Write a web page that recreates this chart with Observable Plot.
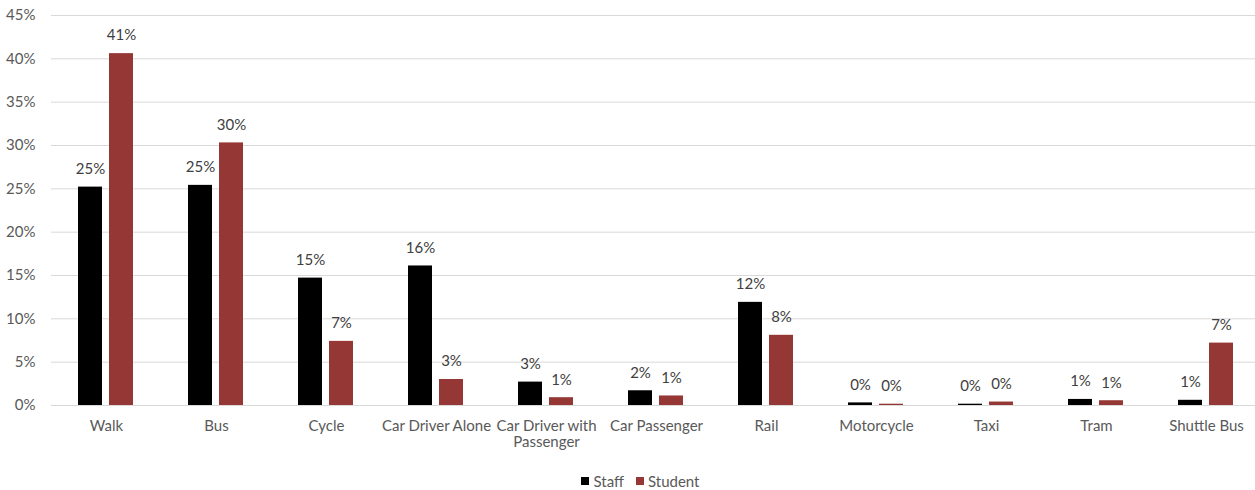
<!DOCTYPE html>
<html>
<head>
<meta charset="utf-8">
<script src="https://cdn.jsdelivr.net/npm/d3@7"></script>
<script src="https://cdn.jsdelivr.net/npm/@observablehq/plot@0.6"></script>
<style>
  body { margin: 0; background: #fff; font-family: Lato, "Open Sans", sans-serif; }
  #chart svg { display: block; }
  .legend { display: flex; justify-content: center; align-items: center; height: 18px; line-height: 18px;
            padding-top: 10px; padding-left: 26px; font-size: 15px; color: #595959; }
  .legend .item { display: flex; align-items: center; margin: 0 6px; }
  .legend .swatch { width: 8px; height: 8px; margin-right: 4px; }
</style>
</head>
<body>
<div id="chart"></div>
<script>
// Travel mode shares (%) for staff and students
const modes = ["Walk", "Bus", "Cycle", "Car Driver Alone", "Car Driver with Passenger",
  "Car Passenger", "Rail", "Motorcycle", "Taxi", "Tram", "Shuttle Bus"];
const modeLabels = ["Walk", "Bus", "Cycle", "Car Driver Alone", "Car Driver with\nPassenger",
  "Car Passenger", "Rail", "Motorcycle", "Taxi", "Tram", "Shuttle Bus"];
const staff   = [25.2, 25.4, 14.7, 16.1, 2.7, 1.7, 11.9, 0.3, 0.15, 0.7, 0.6];
const student = [40.6, 30.3, 7.4, 3.0, 0.9, 1.1, 8.1, 0.15, 0.4, 0.55, 7.2];
const groups = ["Staff", "Student"];
const groupColors = ["#000000", "#953735"];
const yTicks = [0, 5, 10, 15, 20, 25, 30, 35, 40, 45];

const rows = modes.flatMap((m, i) => [
  {mode: m, group: groups[0], value: staff[i]},
  {mode: m, group: groups[1], value: student[i]}
]);

const chart = Plot.plot({
  width: 1255,
  height: 462,
  marginLeft: 51,
  marginRight: 0,
  marginTop: 15,
  marginBottom: 57,
  style: {fontFamily: "Lato, 'Open Sans', sans-serif", fontSize: "15px", color: "#595959", background: "#fff"},
  fx: {domain: modes, range: [50.8, 1260.8], paddingInner: 0, paddingOuter: 0, label: null},
  x: {domain: groups, paddingInner: 0.2215, paddingOuter: 0.851, axis: null},
  y: {domain: [0, 45], axis: null},
  color: {domain: groups, range: groupColors},
  marks: [
    Plot.gridY(yTicks, {stroke: "#d9d9d9", strokeOpacity: 1}),
    Plot.axisY(yTicks, {tickSize: 0, tickPadding: 16, tickFormat: d => d + "%", fill: "#595959",
      fontSize: 15, label: null}),
    Plot.axisFx({anchor: "bottom", tickSize: 0, tickPadding: 13, fill: "#595959", fontSize: 15,
      lineHeight: 1.13, tickFormat: d => modeLabels[modes.indexOf(d)], label: null}),
    Plot.barY(rows, {fx: "mode", x: "group", y: "value", fill: "group"}),
    Plot.text(rows, {fx: "mode", x: "group", y: "value", text: d => Math.round(d.value) + "%",
      dy: -18, lineAnchor: "middle", fill: "#404040", fontSize: 15})
  ]
});

document.getElementById("chart").appendChild(chart);

const legend = document.createElement("div");
legend.className = "legend";
groups.forEach((g, i) => {
  const item = document.createElement("div");
  item.className = "item";
  const sw = document.createElement("span");
  sw.className = "swatch";
  sw.style.background = groupColors[i];
  const label = document.createElement("span");
  label.textContent = g;
  item.appendChild(sw);
  item.appendChild(label);
  legend.appendChild(item);
});
document.getElementById("chart").appendChild(legend);
</script>
</body>
</html>
